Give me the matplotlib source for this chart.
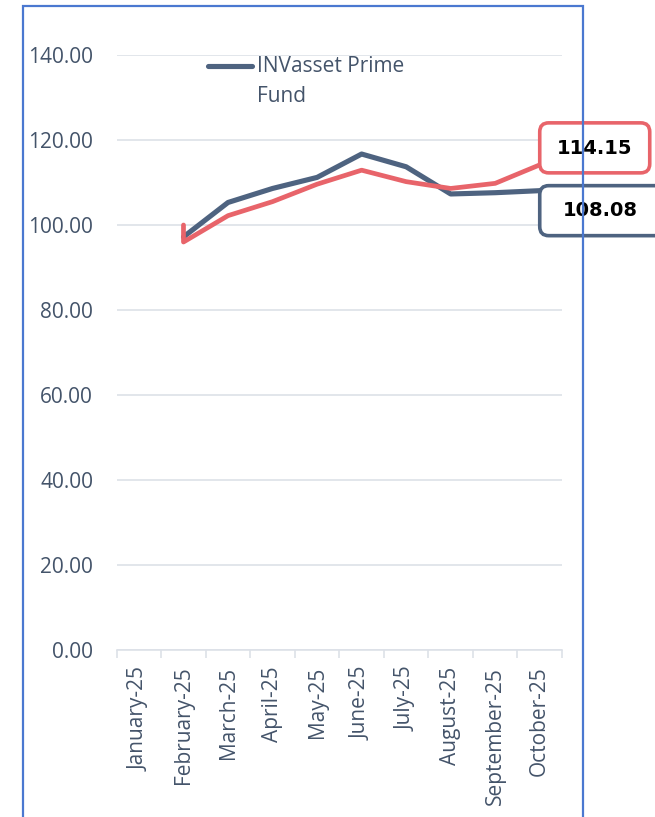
import matplotlib
matplotlib.use("Agg")
import matplotlib.pyplot as plt
import matplotlib.transforms as mtransforms
from matplotlib.patches import FancyBboxPatch, Rectangle
from matplotlib.lines import Line2D
from matplotlib.ticker import FixedLocator

# ---- data ----
months = ["January-25", "February-25", "March-25", "April-25", "May-25",
          "June-25", "July-25", "August-25", "September-25", "October-25"]
fund_months = months[1:]
fund_values = [97.2, 105.3, 108.6, 111.2, 116.7, 113.7, 107.3, 107.6, 108.08]
bench_start = 100.0
bench_values = [96.0, 102.2, 105.5, 109.6, 112.9, 110.2, 108.6, 109.8, 114.15]
fund_label = "INVasset Prime\nFund"
fund_end_label = "108.08"
bench_end_label = "114.15"
yticks = [0, 20, 40, 60, 80, 100, 120, 140]

DARK = "#4E6380"
RED = "#E8646A"
TXT = "#44546A"
GRID = "#DDE1E8"
BORDER = "#4A78D0"

plt.rcParams['font.family'] = ['Open Sans', 'DejaVu Sans']

fig = plt.figure(figsize=(6.55, 8.17), dpi=100)
ax = fig.add_axes([116.7 / 655, 1 - 650 / 817, (562 - 116.7) / 655, (650 - 55) / 817])

xpos = {m: i for i, m in enumerate(months)}
fx = [xpos[m] for m in fund_months]
bx = [xpos[fund_months[0]]] + fx
by = [bench_start] + bench_values

ax.plot(fx, fund_values, color=DARK, lw=3.7, solid_joinstyle='round',
        solid_capstyle='round', zorder=3, clip_on=False)
ax.plot(bx, by, color=RED, lw=3.4, solid_joinstyle='round',
        solid_capstyle='round', zorder=4, clip_on=False)

ax.set_xlim(-0.5, len(months) - 0.5)
ax.set_ylim(0, 140)
ax.set_yticks(yticks)
ax.set_yticklabels([f"{v:.2f}" for v in yticks])
ax.set_xticks(range(len(months)))
ax.set_xticklabels(months, rotation=90)
ax.xaxis.set_minor_locator(FixedLocator([i - 0.5 for i in range(len(months) + 1)]))
ax.tick_params(axis='x', which='major', length=0, pad=12, labelsize=15, labelcolor=TXT)
ax.tick_params(axis='x', which='minor', length=6, width=1.2, color=GRID)
ax.tick_params(axis='y', length=0, pad=17, labelsize=15, labelcolor=TXT)
for lbl in ax.get_xticklabels():
    lbl.set_va('top')

ax.grid(axis='y', color=GRID, lw=1.2, zorder=0)
ax.set_axisbelow(True)
for s in ['top', 'right', 'left']:
    ax.spines[s].set_visible(False)
ax.spines['bottom'].set_color(GRID)
ax.spines['bottom'].set_linewidth(1.2)

# border
fig.patches.append(Rectangle((23 / 655, -0.1), (583 - 23) / 655, 1.1 - 6 / 817,
                             transform=fig.transFigure, fill=False,
                             edgecolor=BORDER, lw=1.6, zorder=0))

# legend (manual)
fig.add_artist(Line2D([208 / 655, 252 / 655], [1 - 66 / 817, 1 - 66 / 817],
                      transform=fig.transFigure, color=DARK, lw=3.7,
                      solid_capstyle='round'))
fig.text(257 / 655, 1 - 66 / 817, fund_label.split("\n")[0], fontsize=15,
         color=TXT, ha='left', va='center')
fig.text(257 / 655, 1 - 97 / 817, fund_label.split("\n")[1], fontsize=15,
         color=TXT, ha='left', va='center')

# callouts
def callout(xi, yv, rect, tpos, text, color):
    tr = mtransforms.IdentityTransform() + mtransforms.ScaledTranslation(xi, yv, ax.transData)
    p = FancyBboxPatch((rect[0], rect[1]), rect[2], rect[3],
                       boxstyle="round,pad=0,rounding_size=9",
                       transform=tr, facecolor='white', edgecolor=color,
                       lw=2.6, zorder=10, clip_on=False)
    ax.add_artist(p)
    ax.text(tpos[0], tpos[1], text, transform=tr, ha='center', va='center',
            fontsize=14, fontweight='bold', family='DejaVu Sans',
            color='black', zorder=11, clip_on=False)

last = xpos[fund_months[-1]]
callout(last, bench_values[-1], (0, -8, 110, 50), (54.5, 16), bench_end_label, RED)
callout(last, fund_values[-1], (0, -45, 128, 50), (60.5, -20), fund_end_label, DARK)

fig.savefig("out.png", dpi=100)
